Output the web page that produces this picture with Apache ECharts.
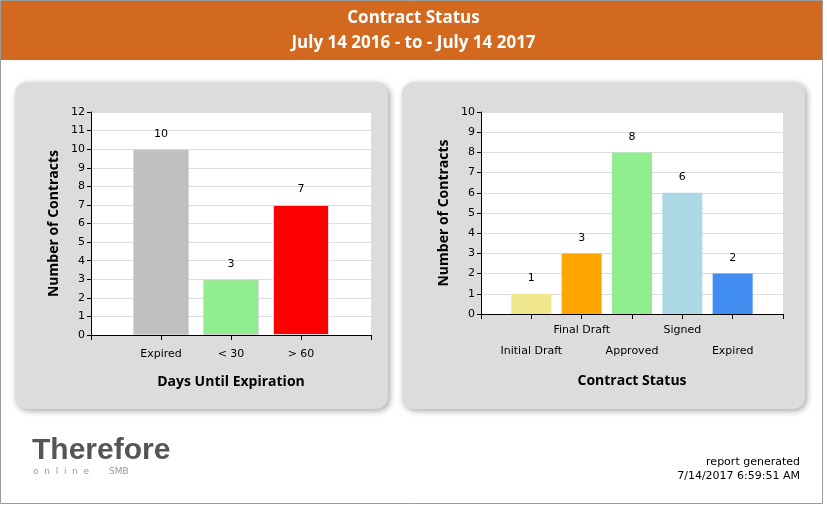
<!DOCTYPE html>
<html><head><meta charset="utf-8">
<script src="https://cdn.jsdelivr.net/npm/echarts@6/dist/echarts.min.js"></script>
<style>html,body{margin:0;padding:0;background:#fff}#c{width:827px;height:506px}</style>
</head><body><div id="c"></div>
<script>
const leftCategories = ['Expired', '< 30', '> 60'];
const leftValues = [10, 3, 7];
const leftColors = ['#C0C0C0', '#90EE90', '#FF0000'];
const rightCategories = ['Initial Draft', 'Final Draft', 'Approved', 'Signed', 'Expired'];
const rightValues = [1, 3, 8, 6, 2];
const rightColors = ['#F0E68C', '#FFA500', '#90EE90', '#ADD8E6', '#428EF0'];

const F = 'DejaVu Sans';
const B = 'Open Sans';
function padCats(c){ return [''].concat(c, ['']); }
function padData(v, col, border){
  return ['-'].concat(v.map((x,i)=>({value:x,itemStyle:{color:col[i],borderColor:border?'#D8D8D8':col[i],borderWidth:border?1:0}})), ['-']);
}
function xAxis(gi, cats, name, alt){
  return {type:'category',gridIndex:gi,data:padCats(cats),boundaryGap:false,
    name:name,nameLocation:'middle',nameGap:alt?60:40,
    nameTextStyle:{fontFamily:B,fontWeight:'bold',fontSize:14,color:'#000'},
    axisLine:{lineStyle:{color:'#000'}},axisTick:{interval:0,length:5,lineStyle:{color:'#000'}},
    axisLabel:{interval:0,fontFamily:F,fontSize:11,color:'#000',margin:alt?6:9,lineHeight:21,
      formatter:(v,i)=> alt && (i%2===1) ? '\n'+v : v}};
}
function yAxis(gi, max){
  return {type:'value',gridIndex:gi,min:0,max:max,interval:1,
    name:'Number of Contracts',nameLocation:'middle',nameGap:30,
    nameTextStyle:{fontFamily:B,fontWeight:'bold',fontSize:14,color:'#000'},
    axisLine:{show:true,lineStyle:{color:'#000'}},axisTick:{show:true,length:4,lineStyle:{color:'#000'}},
    axisLabel:{fontFamily:F,fontSize:11,color:'#000',margin:6},
    splitLine:{lineStyle:{color:'#DDDDDD'}}};
}
const chart = echarts.init(document.getElementById('c'));
chart.setOption({
  animation:false,
  backgroundColor:'#fff',
  graphic:[
    {type:'rect',shape:{x:0.5,y:0.5,width:822,height:503},style:{fill:'#fff',stroke:'#9A9A9A',lineWidth:1},z:-10},
    {type:'rect',shape:{x:1,y:1,width:821,height:59},style:{fill:'#D2691F'},z:-9},
    {type:'text',left:'center',top:10,style:{text:'Contract Status',fontFamily:B,fontWeight:'bold',fontSize:17,fill:'#fff'}},
    {type:'text',left:'center',top:35,style:{text:'July 14 2016 - to - July 14 2017',fontFamily:B,fontWeight:'bold',fontSize:17,fill:'#fff'}},
    {type:'rect',shape:{x:15,y:82,width:373,height:327,r:12},style:{fill:'#DCDCDC',shadowBlur:6,shadowColor:'rgba(0,0,0,0.35)',shadowOffsetX:2,shadowOffsetY:2},z:-5},
    {type:'rect',shape:{x:402,y:82,width:403,height:327,r:12},style:{fill:'#DCDCDC',shadowBlur:6,shadowColor:'rgba(0,0,0,0.35)',shadowOffsetX:2,shadowOffsetY:2},z:-5},
    {type:'rect',shape:{x:91,y:112,width:280,height:223},style:{fill:'#fff'},z:-4},
    {type:'rect',shape:{x:481,y:112,width:302,height:202},style:{fill:'#fff'},z:-4},
    {type:'text',left:32,top:436,style:{text:'Therefore',fontFamily:'Liberation Sans',fontWeight:'bold',fontSize:30,fill:'#555'}},
    {type:'text',left:33,top:467,style:{text:'o  n  l  i  n  e       SMB',fontFamily:F,fontSize:9,fill:'#999'}},
    {type:'text',right:27,top:457,style:{text:'report generated',fontFamily:F,fontSize:11,fill:'#000'}},
    {type:'text',right:27,top:471,style:{text:'7/14/2017 6:59:51 AM',fontFamily:F,fontSize:11,fill:'#000'}}
  ],
  grid:[
    {left:91,top:112,width:280,height:223},
    {left:481,top:112,width:302,height:202}
  ],
  xAxis:[xAxis(0,leftCategories,'Days Until Expiration',false), xAxis(1,rightCategories,'Contract Status',true)],
  yAxis:[yAxis(0,12), yAxis(1,10)],
  series:[
    {type:'bar',xAxisIndex:0,yAxisIndex:0,barWidth:56,data:padData(leftValues,leftColors,true),
     label:{show:true,position:'top',distance:10,fontFamily:F,fontSize:11,color:'#000'}},
    {type:'bar',xAxisIndex:1,yAxisIndex:1,barWidth:40,data:padData(rightValues,rightColors,false),
     label:{show:true,position:'top',distance:10,fontFamily:F,fontSize:11,color:'#000'}}
  ]
});
</script></body></html>
